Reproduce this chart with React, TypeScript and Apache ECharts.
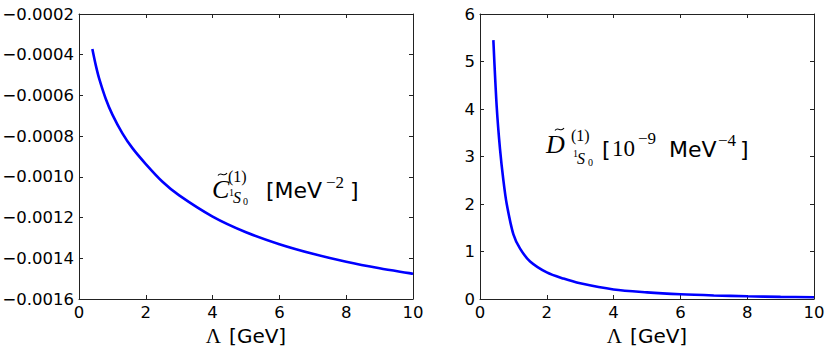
import React, { useEffect, useRef } from "react";
import * as echarts from "echarts";

// Left panel: C~(1) 1S0 [MeV^-2] vs Lambda [GeV]
const lambdaC = [0.4, 0.5, 0.6, 0.8, 1.0, 1.3, 1.6, 2, 2.5, 3, 4, 5, 6, 7, 8, 9, 10];
const valuesC = [-0.000372, -0.00045, -0.000515, -0.000616, -0.000694, -0.000786, -0.000859, -0.000937, -0.001024, -0.001091, -0.001195, -0.001272, -0.001331, -0.001378, -0.001417, -0.001449, -0.001476];

// Right panel: D~(1) 1S0 [1e-9 MeV^-4] vs Lambda [GeV]
const lambdaD = [0.4, 0.5, 0.6, 0.7, 0.8, 1.0, 1.2, 1.5, 2, 2.5, 3, 4, 5, 6, 7, 8, 9, 10];
const valuesD = [5.45, 4.05, 3.15, 2.5, 2.0, 1.36, 1.06, 0.79, 0.56, 0.43, 0.33, 0.2, 0.14, 0.1, 0.075, 0.058, 0.045, 0.037];

const xTicks = { min: 0, max: 10, interval: 2 };
const yTicksC = { min: -0.0016, max: -0.0002, interval: 0.0002 };
const yTicksD = { min: 0, max: 6, interval: 1 };

const SANS = "DejaVu Sans";
const SERIF = "Liberation Serif";

export default function App() {
  const ref = useRef<HTMLDivElement>(null);
  useEffect(() => {
    if (!ref.current) return;
    const chart = echarts.init(ref.current, null, { renderer: "svg" });
    const axisLine = { show: true, onZero: false, lineStyle: { color: "#222", width: 1 } };
    const tick = { show: true, inside: true, length: 4, lineStyle: { color: "#222", width: 1 } };
    const label = { color: "#000", fontFamily: SANS, fontSize: 16.5 };
    const xMain = (gi: number) => ({
      type: "value", gridIndex: gi, position: "bottom", ...xTicks,
      axisLine, axisTick: tick, splitLine: { show: false },
      axisLabel: { ...label, margin: 5, formatter: (v: number) => String(Math.round(v)) },
      name: "{l|Λ}{g|[GeV]}", nameLocation: "middle", nameGap: 22,
      nameTextStyle: {
        rich: {
          l: { fontFamily: SERIF, fontSize: 21, color: "#000" },
          g: { fontFamily: SANS, fontSize: 20, color: "#000", padding: [0, 0, 0, 8] },
        },
      },
    });
    const xTop = (gi: number) => ({
      type: "value", gridIndex: gi, position: "top", ...xTicks,
      axisLine, axisTick: tick, axisLabel: { show: false }, splitLine: { show: false },
    });
    const yMain = (gi: number, t: any, fmt: (v: number) => string) => ({
      type: "value", gridIndex: gi, position: "left", ...t,
      axisLine, axisTick: tick, splitLine: { show: false },
      axisLabel: { ...label, margin: 5, formatter: fmt },
    });
    const yRight = (gi: number, t: any) => ({
      type: "value", gridIndex: gi, position: "right", ...t,
      axisLine, axisTick: tick, axisLabel: { show: false }, splitLine: { show: false },
    });
    const txt = (x: number, y: number, text: string, size: number, family: string, italic = false) => ({
      type: "text", x, y,
      style: {
        text, fontSize: size, fontFamily: family, fontStyle: italic ? "italic" : "normal",
        fill: "#000", verticalAlign: "middle", align: "left",
      },
    });
    const tilde = (x: number, y: number) => ({
      type: "bezierCurve",
      shape: { x1: x, y1: y + 1.5, cpx1: x + 3, cpy1: y - 3, cpx2: x + 6, cpy2: y + 4, x2: x + 9, y2: y - 1 },
      style: { stroke: "#000", lineWidth: 1.1, fill: "none" },
    });
    chart.setOption({
      animation: false,
      grid: [
        { left: 79, top: 14, width: 334, height: 285, outerBoundsMode: "none", containLabel: false },
        { left: 480, top: 14, width: 334, height: 285, outerBoundsMode: "none", containLabel: false },
      ],
      xAxis: [xMain(0), xTop(0), xMain(1), xTop(1)],
      yAxis: [
        yMain(0, yTicksC, (v: number) => v.toFixed(4).replace("-", "−")),
        yRight(0, yTicksC),
        yMain(1, yTicksD, (v: number) => String(Math.round(v))),
        yRight(1, yTicksD),
      ],
      series: [
        {
          type: "line", xAxisIndex: 0, yAxisIndex: 0, smooth: 0.3,
          showSymbol: false, lineStyle: { color: "#0000ff", width: 2.6 },
          data: lambdaC.map((x, i) => [x, valuesC[i]]),
        },
        {
          type: "line", xAxisIndex: 2, yAxisIndex: 2, smooth: 0.3,
          showSymbol: false, lineStyle: { color: "#0000ff", width: 2.6 },
          data: lambdaD.map((x, i) => [x, valuesD[i]]),
        },
      ],
      graphic: [
        // left annotation
        txt(212, 189, "C", 26, SERIF, true),
        tilde(218, 174),
        txt(228, 176, "(1)", 16, SERIF),
        txt(229, 192, "1", 10, SERIF),
        txt(233, 197, "S", 16, SERIF, true),
        txt(243, 201, "0", 10, SERIF),
        txt(266, 190, "[MeV", 22, SANS),
        txt(326, 182, "−2", 17, SERIF),
        txt(350, 190, "]", 22, SANS),
        // right annotation
        txt(546, 144, "D", 26, SERIF, true),
        tilde(555, 129),
        txt(571, 135, "(1)", 16, SERIF),
        txt(573, 153, "1", 10, SERIF),
        txt(577, 158, "S", 16, SERIF, true),
        txt(588, 162, "0", 10, SERIF),
        txt(602, 149, "[", 22, SANS),
        txt(612, 148, "10", 23, SERIF),
        txt(638, 138, "−9", 17, SERIF),
        txt(669, 149, "MeV", 22, SANS),
        txt(718, 140, "−4", 17, SERIF),
        txt(740, 149, "]", 22, SANS),
      ],
    });
    return () => chart.dispose();
  }, []);
  return (
    <div
      ref={ref}
      style={{ position: "absolute", left: 0, top: 0, width: 830, height: 348, background: "#fff" }}
    />
  );
}
